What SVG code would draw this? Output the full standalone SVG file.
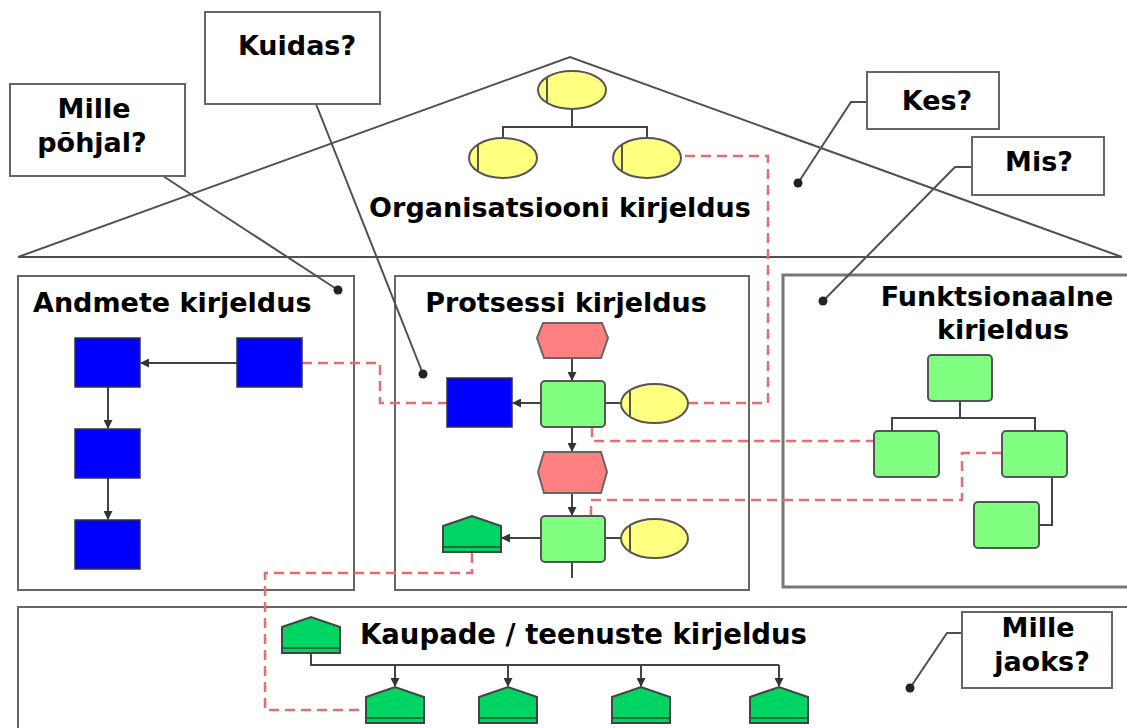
<svg xmlns="http://www.w3.org/2000/svg" width="1127" height="728" viewBox="0 0 1127 728">
  <defs>
    <style>
      .lbl { font-family: "DejaVu Sans", Verdana, sans-serif; font-weight: bold; font-size: 27px; fill: #000; }
      .box { fill: #fff; stroke: #666; stroke-width: 2; }
      .sec { fill: none; stroke: #666; stroke-width: 2; }
      .lead { fill: none; stroke: #505050; stroke-width: 2; }
      .dot { fill: #222; }
      .ln { fill: none; stroke: #444; stroke-width: 2; }
      .arr { fill: none; stroke: #444; stroke-width: 2; marker-end: url(#ah); }
      .dash { fill: none; stroke: #e07070; stroke-width: 2.5; stroke-dasharray: 10 6; }
      .data { fill: #0000ff; stroke: #333; stroke-width: 1.5; }
      .func { fill: #80ff80; stroke: #555; stroke-width: 2; }
      .org { fill: #ffff80; stroke: #555; stroke-width: 2; }
      .orgbar { stroke: #555; stroke-width: 2; }
      .event { fill: #ff8080; stroke: #666; stroke-width: 2; }
      .goods { fill: #00d462; stroke: #444; stroke-width: 2; }
      .band { stroke: #1e6e3a; stroke-width: 2; }
    </style>
    <marker id="ah" markerUnits="userSpaceOnUse" markerWidth="9" markerHeight="9" refX="8" refY="4.5" orient="auto">
      <path d="M0,0 L9,4.5 L0,9 z" fill="#333"/>
    </marker>
    <clipPath id="titleClip">
      <rect x="780" y="280" width="347" height="61"/>
    </clipPath>
    <!-- reusable goods/service shape, 58 wide, apex at 0 -->
    <g id="goodsShape">
      <path class="goods" d="M0,10 L29,0 L58,10 L58,36 L0,36 Z"/>
      <line class="band" x1="1" y1="31" x2="57" y2="31"/>
    </g>
  </defs>

  <rect x="0" y="0" width="1127" height="728" fill="#fff"/>

  <!-- house outline -->
  <g id="house">
    <polyline class="lead" points="18,257 570,57 1122,257"/>
    <line class="lead" x1="18" y1="257" x2="1122" y2="257"/>
  </g>

  <!-- section frames -->
  <g id="sec-andmete">
    <rect class="sec" x="18" y="276" width="336" height="314"/>
    <text class="lbl" x="33" y="312">Andmete kirjeldus</text>
  </g>
  <g id="sec-protsess">
    <rect class="sec" x="395" y="276" width="354" height="314"/>
    <text class="lbl" x="566" y="312" text-anchor="middle">Protsessi kirjeldus</text>
  </g>
  <g id="sec-funkts">
    <rect x="783" y="275" width="360" height="312" fill="none" stroke="#777" stroke-width="3"/>
    <text class="lbl" x="997" y="306" text-anchor="middle">Funktsionaalne</text>
    <text class="lbl" x="1003" y="339" text-anchor="middle" clip-path="url(#titleClip)">kirjeldus</text>
  </g>
  <g id="sec-kaupade">
    <rect class="sec" x="18" y="607" width="1125" height="140"/>
    <text class="lbl" x="360" y="644" style="font-size:27.5px">Kaupade / teenuste kirjeldus</text>
  </g>
  <g id="sec-org">
    <text class="lbl" x="560" y="217" text-anchor="middle">Organisatsiooni kirjeldus</text>
  </g>

  <!-- connectors -->
  <g id="connectors">
    <!-- organisation tree -->
    <line class="ln" x1="572" y1="109" x2="572" y2="127"/>
    <polyline class="ln" points="503,139 503,127 647,127 647,139"/>
    <!-- data model -->
    <line class="arr" x1="237" y1="363" x2="141" y2="363"/>
    <line class="arr" x1="108" y1="387" x2="108" y2="428"/>
    <line class="arr" x1="108" y1="478" x2="108" y2="519"/>
    <!-- process chain -->
    <line class="arr" x1="572" y1="359" x2="572" y2="380"/>
    <line class="arr" x1="572" y1="427" x2="572" y2="451"/>
    <line class="arr" x1="572" y1="493" x2="572" y2="515"/>
    <line class="ln" x1="572" y1="562" x2="572" y2="578"/>
    <line class="arr" x1="541" y1="403" x2="513" y2="403"/>
    <line class="arr" x1="541" y1="538" x2="502" y2="538"/>
    <line class="ln" x1="605" y1="403" x2="621" y2="403"/>
    <line class="ln" x1="605" y1="538" x2="621" y2="538"/>
    <!-- function tree -->
    <line class="ln" x1="960" y1="401" x2="960" y2="418"/>
    <polyline class="ln" points="892,431 892,418 1035,418 1035,431"/>
    <polyline class="ln" points="1052,477 1052,525 1039,525"/>
    <!-- goods tree -->
    <polyline class="ln" points="311,653 311,665 779,665"/>
    <line class="arr" x1="395" y1="665" x2="395" y2="686"/>
    <line class="arr" x1="508" y1="665" x2="508" y2="686"/>
    <line class="arr" x1="641" y1="665" x2="641" y2="686"/>
    <line class="arr" x1="779" y1="665" x2="779" y2="686"/>
    <!-- cross-view links -->
    <polyline class="dash" points="302,363 380,363 380,403 447,403"/>
    <polyline class="dash" points="688,403 768,403 768,156 680,156"/>
    <polyline class="dash" points="592,427 592,441 874,441"/>
    <polyline class="dash" points="591,516 591,500 962,500 962,453 1002,453"/>
    <polyline class="dash" points="472,553 472,573 265,573 265,710 366,710"/>
    <!-- question leaders -->
    <line class="lead" x1="163" y1="176" x2="338" y2="290"/>
    <line class="lead" x1="316" y1="104" x2="423" y2="374"/>
    <polyline class="lead" points="867,102 851,102 798,183"/>
    <polyline class="lead" points="972,167 955,167 823,301"/>
    <polyline class="lead" points="962,633 947,633 910,688"/>
  </g>

  <!-- question boxes -->
  <g id="q-mille-pohjal">
    <rect class="box" x="10" y="84" width="175" height="92"/>
    <text class="lbl" x="94" y="118" text-anchor="middle">Mille</text>
    <text class="lbl" x="92" y="152" text-anchor="middle">põhjal?</text>
    <circle class="dot" cx="338" cy="290" r="4.5"/>
  </g>
  <g id="q-kuidas">
    <rect class="box" x="205" y="12" width="175" height="92"/>
    <text class="lbl" x="297" y="55" text-anchor="middle">Kuidas?</text>
    <circle class="dot" cx="423" cy="374" r="4.5"/>
  </g>
  <g id="q-kes">
    <rect class="box" x="867" y="72" width="132" height="57"/>
    <text class="lbl" x="937" y="110" text-anchor="middle">Kes?</text>
    <circle class="dot" cx="798" cy="183" r="4.5"/>
  </g>
  <g id="q-mis">
    <rect class="box" x="972" y="137" width="132" height="58"/>
    <text class="lbl" x="1039" y="171" text-anchor="middle">Mis?</text>
    <circle class="dot" cx="823" cy="301" r="4.5"/>
  </g>
  <g id="q-mille-jaoks">
    <rect class="box" x="962" y="612" width="150" height="76"/>
    <text class="lbl" x="1038" y="637" text-anchor="middle">Mille</text>
    <text class="lbl" x="1042" y="671" text-anchor="middle">jaoks?</text>
    <circle class="dot" cx="910" cy="688" r="4.5"/>
  </g>

  <!-- organisation units -->
  <g id="org-top">
    <ellipse class="org" cx="572" cy="90" rx="34" ry="19"/>
    <line class="orgbar" x1="547" y1="77" x2="547" y2="103"/>
  </g>
  <g id="org-left">
    <ellipse class="org" cx="503" cy="158" rx="34" ry="20"/>
    <line class="orgbar" x1="478" y1="145" x2="478" y2="171"/>
  </g>
  <g id="org-right">
    <ellipse class="org" cx="647" cy="158" rx="34" ry="20"/>
    <line class="orgbar" x1="622" y1="145" x2="622" y2="171"/>
  </g>

  <!-- data objects -->
  <g id="data-1"><rect class="data" x="75" y="338" width="65" height="49"/></g>
  <g id="data-2"><rect class="data" x="237" y="338" width="65" height="49"/></g>
  <g id="data-3"><rect class="data" x="75" y="429" width="65" height="49"/></g>
  <g id="data-4"><rect class="data" x="75" y="520" width="65" height="49"/></g>

  <!-- process chain -->
  <g id="event-1">
    <polygon class="event" points="543,323 602,323 608,338 601,358 544,358 537,338"/>
  </g>
  <g id="func-p1"><rect class="func" x="541" y="381" width="64" height="46" rx="4"/></g>
  <g id="data-p"><rect class="data" x="447" y="378" width="65" height="49"/></g>
  <g id="org-p1">
    <ellipse class="org" cx="654.5" cy="403.5" rx="33.5" ry="19.5"/>
    <line class="orgbar" x1="630" y1="391" x2="630" y2="416"/>
  </g>
  <g id="event-2">
    <polygon class="event" points="544,452 601,452 607,472 601,493 544,493 538,472"/>
  </g>
  <g id="func-p2"><rect class="func" x="541" y="516" width="64" height="46" rx="4"/></g>
  <g id="org-p2">
    <ellipse class="org" cx="654.5" cy="538.5" rx="33.5" ry="19.5"/>
    <line class="orgbar" x1="630" y1="526" x2="630" y2="551"/>
  </g>
  <g id="goods-p"><use href="#goodsShape" x="443" y="516"/></g>

  <!-- function tree -->
  <g id="func-top"><rect class="func" x="928" y="355" width="64" height="46" rx="4"/></g>
  <g id="func-left"><rect class="func" x="874" y="431" width="65" height="46" rx="4"/></g>
  <g id="func-right"><rect class="func" x="1002" y="431" width="65" height="46" rx="4"/></g>
  <g id="func-sub"><rect class="func" x="974" y="502" width="65" height="46" rx="4"/></g>

  <!-- goods / services tree -->
  <g id="goods-top"><use href="#goodsShape" x="282" y="617"/></g>
  <g id="goods-1"><use href="#goodsShape" x="366" y="687"/></g>
  <g id="goods-2"><use href="#goodsShape" x="479" y="687"/></g>
  <g id="goods-3"><use href="#goodsShape" x="612" y="687"/></g>
  <g id="goods-4"><use href="#goodsShape" x="750" y="687"/></g>
</svg>
